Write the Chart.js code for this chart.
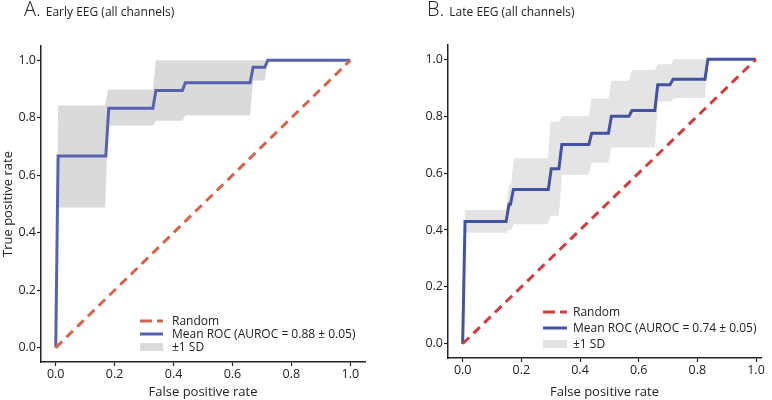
<!DOCTYPE html>
<html>
<head>
<meta charset="utf-8">
<script src="https://cdn.jsdelivr.net/npm/chart.js@4.4.1/dist/chart.umd.min.js"></script>
<style>
  body { margin: 0; background: #fff; font-family: 'Open Sans', sans-serif; }
  #wrap { position: relative; width: 772px; height: 400px; overflow: hidden; }
  .panel { position: absolute; top: 0; width: 386px; height: 400px; }
  .ttl { position: absolute; top: -3px; color: #222; white-space: nowrap; line-height: 24px; }
  .ttl .big { font-size: 20px; font-weight: 300; }
  .ttl .small { font-size: 12px; margin-left: 5px; }
</style>
</head>
<body>
<div id="wrap">
  <div class="panel" style="left:0"><canvas id="chartA" width="386" height="400"></canvas></div>
  <div class="panel" style="left:386px"><canvas id="chartB" width="386" height="400"></canvas></div>
  <div class="ttl" style="left:24px"><span class="big">A.</span><span class="small">Early EEG (all channels)</span></div>
  <div class="ttl" style="left:427px"><span class="big">B.</span><span class="small">Late EEG (all channels)</span></div>
</div>
<script>
// tick labels (both panels)
var xTicks = [0, 0.2, 0.4, 0.6, 0.8, 1.0];
var yTicks = [0, 0.2, 0.4, 0.6, 0.8, 1.0];

// chance line
var randomFpr = [0, 1];
var randomTpr = [0, 1];

// A. Early EEG - mean ROC
var earlyFpr = [0, 0.008, 0.17, 0.18, 0.33, 0.34, 0.43, 0.44, 0.66, 0.67, 0.71, 0.72, 1.0];
var earlyTpr = [0, 0.667, 0.667, 0.833, 0.833, 0.895, 0.895, 0.922, 0.922, 0.976, 0.976, 1.0, 1.0];
// A. +-1 SD band
var earlyBandFpr = [0, 0.008, 0.168, 0.178, 0.33, 0.34, 0.43, 0.44, 0.66, 0.67, 0.71, 0.72, 1.0];
var earlyUpper = [0, 0.843, 0.843, 0.899, 0.899, 1.0, 1.0, 1.0, 1.0, 1.0, 1.0, 1.0, 1.0];
var earlyLower = [0, 0.488, 0.488, 0.773, 0.773, 0.79, 0.79, 0.808, 0.808, 0.93, 0.93, 1.0, 1.0];
var earlyAuroc = '0.88 ± 0.05';

// B. Late EEG - mean ROC
var lateFpr = [0, 0.008, 0.148, 0.158, 0.163, 0.173, 0.292, 0.302, 0.328, 0.338, 0.43, 0.44, 0.497, 0.507, 0.567, 0.577, 0.655, 0.665, 0.707, 0.717, 0.826, 0.836, 1.0];
var lateTpr = [0, 0.43, 0.43, 0.49, 0.49, 0.542, 0.542, 0.615, 0.615, 0.70, 0.70, 0.74, 0.74, 0.80, 0.80, 0.82, 0.82, 0.91, 0.91, 0.93, 0.93, 1.0, 1.0];
// B. +-1 SD band
var lateBandFpr = [0, 0.008, 0.148, 0.158, 0.165, 0.175, 0.29, 0.30, 0.328, 0.338, 0.43, 0.44, 0.497, 0.507, 0.567, 0.577, 0.655, 0.665, 0.71, 0.72, 0.826, 0.836, 1.0];
var lateUpper = [0, 0.47, 0.47, 0.56, 0.56, 0.652, 0.652, 0.78, 0.78, 0.80, 0.80, 0.862, 0.862, 0.924, 0.924, 0.962, 0.962, 0.982, 0.982, 1.0, 1.0, 1.0, 1.0];
var lateLower = [0, 0.39, 0.39, 0.40, 0.40, 0.42, 0.42, 0.45, 0.45, 0.594, 0.594, 0.636, 0.636, 0.69, 0.69, 0.69, 0.69, 0.851, 0.851, 0.864, 0.864, 1.0, 1.0];
var lateAuroc = '0.74 ± 0.05';

Chart.defaults.font.family = "'Open Sans', sans-serif";
Chart.defaults.color = '#222';

function toPoints(xs, ys) {
    return xs.map(function (x, i) { return { x: x, y: ys[i] }; });
}

// legend drawn inside the plot (matplotlib style)
var rocLegend = {
    id: 'rocLegend',
    afterDraw: function (chart, args, o) {
        var ctx = chart.ctx;
        var ds = chart.data.datasets;
        var row = 0;
        ctx.save();
        ctx.font = o.fontSize + "px 'Open Sans'";
        ctx.textBaseline = 'middle';
        for (var i = 0; i < ds.length; i++) {
            if (!ds[i].label) continue;
            var y = o.y + row * o.rowH;
            if (ds[i].fill) {
                ctx.fillStyle = ds[i].backgroundColor;
                ctx.fillRect(o.x, y - 4, o.sampleW, 8);
            } else {
                ctx.strokeStyle = ds[i].borderColor;
                ctx.lineWidth = 3;
                ctx.setLineDash(ds[i].borderDash ? [12, 5] : []);
                ctx.beginPath();
                ctx.moveTo(o.x, y);
                ctx.lineTo(o.x + o.sampleW, y);
                ctx.stroke();
                ctx.setLineDash([]);
            }
            ctx.fillStyle = '#222';
            ctx.fillText(ds[i].label, o.x + o.sampleW + o.gap, y + 1);
            row++;
        }
        ctx.restore();
    }
};

function makeChart(id, p) {
    var ctx = document.getElementById(id);
    return new Chart(ctx, {
        type: 'line',
        data: {
            datasets: [{
                label: 'Random',
                data: toPoints(randomFpr, randomTpr),
                borderColor: p.randomColor,
                borderWidth: 3,
                borderDash: [9, 6],
                fill: false
            }, {
                label: 'Mean ROC (AUROC = ' + p.auroc + ')',
                data: toPoints(p.fpr, p.tpr),
                borderColor: p.meanColor,
                borderWidth: 3,
                fill: false
            }, {
                label: '',
                data: toPoints(p.bandFpr, p.lower),
                borderWidth: 0,
                borderColor: 'rgba(0,0,0,0)',
                fill: false
            }, {
                label: '±1 SD',
                data: toPoints(p.bandFpr, p.upper),
                borderWidth: 0,
                borderColor: 'rgba(0,0,0,0)',
                backgroundColor: p.bandColor,
                fill: '-1'
            }]
        },
        options: {
            responsive: false,
            animation: false,
            layout: { padding: p.padding },
            elements: { point: { radius: 0 }, line: { tension: 0 } },
            plugins: {
                legend: { display: false },
                tooltip: { enabled: false },
                rocLegend: p.legend
            },
            scales: {
                x: {
                    type: 'linear',
                    min: -0.05, max: p.xMax,
                    afterBuildTicks: function (s) { s.ticks = xTicks.map(function (v) { return { value: v }; }); },
                    afterFit: function (s) { s.height = p.xH; },
                    border: { display: true, color: '#222', width: 1.5 },
                    grid: { display: true, drawOnChartArea: false, drawTicks: true, tickLength: 4, tickColor: '#222', tickWidth: 1.2 },
                    ticks: { font: { size: 12.5 }, padding: 1, callback: function (v) { return v.toFixed(1); } },
                    title: { display: true, text: 'False positive rate', font: { size: 13 }, padding: { top: 0, bottom: 0 } }
                },
                y: {
                    type: 'linear',
                    min: -0.05, max: 1.05,
                    afterBuildTicks: function (s) { s.ticks = yTicks.map(function (v) { return { value: v }; }); },
                    afterFit: function (s) { s.width = p.yW; },
                    border: { display: true, color: '#222', width: 1.5 },
                    grid: { display: true, drawOnChartArea: false, drawTicks: true, tickLength: 4, tickColor: '#222', tickWidth: 1.2 },
                    ticks: { font: { size: 12.5 }, padding: 1, callback: function (v) { return v.toFixed(1); } },
                    title: { display: p.yTitle, text: 'True positive rate', font: { size: 13 }, padding: { top: 0, bottom: 0 } }
                }
            }
        },
        plugins: [rocLegend]
    });
}

makeChart('chartA', {
    fpr: earlyFpr, tpr: earlyTpr, bandFpr: earlyBandFpr, upper: earlyUpper, lower: earlyLower,
    auroc: earlyAuroc,
    meanColor: '#5761ad', randomColor: '#d5654a', bandColor: '#dadada',
    padding: { top: 46, right: 21, left: 0, bottom: 0 },
    xMax: 1.05, xH: 38, yW: 41, yTitle: true,
    legend: { x: 140, y: 321, rowH: 13, sampleW: 23, gap: 9, fontSize: 12 }
});

makeChart('chartB', {
    fpr: lateFpr, tpr: lateTpr, bandFpr: lateBandFpr, upper: lateUpper, lower: lateLower,
    auroc: lateAuroc,
    meanColor: '#4352a3', randomColor: '#cf3d3d', bandColor: '#e4e4e4',
    padding: { top: 45, right: 11, left: 0, bottom: 0 },
    xMax: 1.017, xH: 42, yW: 62, yTitle: false,
    legend: { x: 157, y: 312, rowH: 16, sampleW: 24, gap: 6, fontSize: 12 }
});
</script>
</body>
</html>
